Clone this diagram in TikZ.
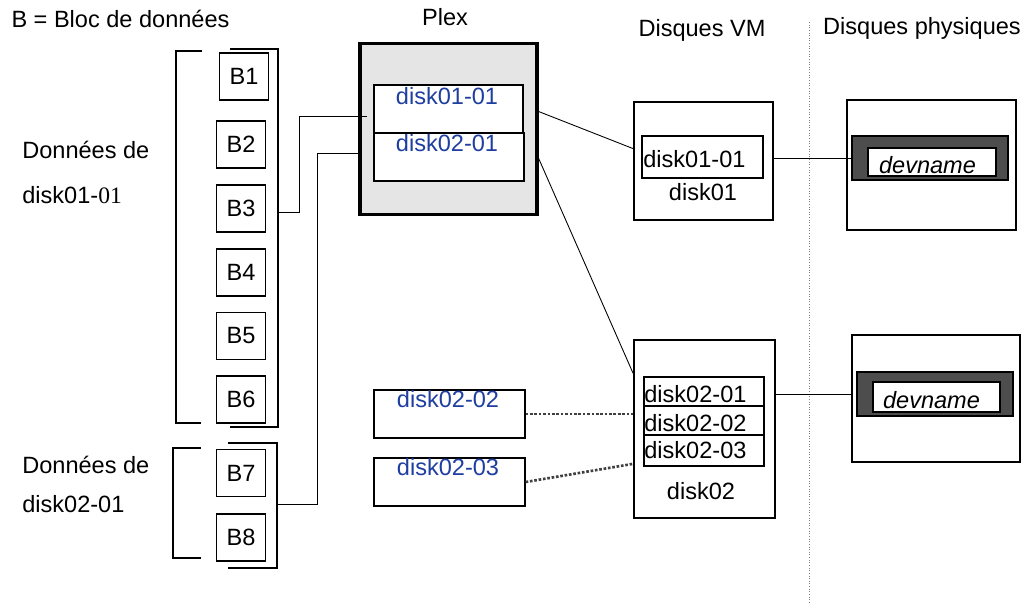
\documentclass[tikz,border=0pt]{standalone}
\usepackage{fontspec}
\setmainfont{Liberation Sans}
\newfontfamily\numserif{Liberation Serif}
\usetikzlibrary{positioning}
\definecolor{plexblue}{RGB}{30,62,160}
\definecolor{plexgray}{RGB}{229,229,229}
\definecolor{devgray}{RGB}{77,77,77}

\begin{document}
\begin{tikzpicture}[font=\fontsize{13.4}{16}\selectfont,
  blocbox/.style={draw,line width=0.7pt,minimum width=0.97cm,minimum height=0.94cm,inner sep=0pt},
  subdisk/.style={draw,line width=0.7pt,fill=white,inner sep=0pt,minimum height=0.96cm},
  vmdisk/.style={draw,line width=1.1pt,inner sep=0pt},
  vmrow/.style={draw,line width=0.7pt,inner sep=0pt,minimum width=2.40cm},
  physdisk/.style={draw,line width=1.1pt,inner sep=0pt},
  wire/.style={line width=0.5pt},
  dotwire/.style={densely dotted,line width=1.5pt,black!75},
  plexlabel/.style={text=plexblue,anchor=base,inner sep=0pt},
  lbl/.style={anchor=base,inner sep=0pt}]
\useasboundingbox (0,0) rectangle (20.66,12.08);

% titres
\node[lbl] (title) at (2.41,11.54) {B = Bloc de données};
\node[lbl] (plextitle) at (8.90,11.58) {Plex};
\node[lbl] (vmtitle) at (14.04,11.36) {Disques VM};
\node[lbl] (phystitle) at (18.44,11.40) {Disques physiques};
\draw[densely dotted,gray,line width=0.5pt] (16.18,11.64) -- (16.18,0.04);

% blocs de donnees
\node[lbl,anchor=base west] (don1) at (0.44,8.92) {Données de};
\node[lbl,anchor=base west] (don1b) at (0.44,8.02) {disk01-{\numserif 01}};
\node[lbl,anchor=base west] (don2) at (0.44,2.62) {Données de};
\node[lbl,anchor=base west] (don2b) at (0.44,1.84) {disk02-01};

\node[blocbox] (b1) at (4.88,10.55) {B1};
\node[blocbox] (b2) at (4.82,9.19) {B2};
\node[blocbox] (b3) at (4.82,7.91) {B3};
\node[blocbox] (b4) at (4.82,6.63) {B4};
\node[blocbox] (b5) at (4.82,5.36) {B5};
\node[blocbox] (b6) at (4.82,4.09) {B6};
\node[blocbox] (b7) at (4.82,2.62) {B7};
\node[blocbox] (b8) at (4.82,1.33) {B8};

\draw[line width=1.3pt] (4.04,11.06) -- (3.52,11.06) -- (3.52,3.62) -- (4.02,3.62);
\draw[line width=1.3pt] (4.02,3.12) -- (3.46,3.12) -- (3.46,0.92) -- (4.02,0.92);
\draw[line width=0.6pt] (4.60,11.10) -- (5.56,11.10) -- (5.56,3.54) -- (4.60,3.54);
\draw[line width=0.6pt] (4.56,3.22) -- (5.54,3.22) -- (5.54,0.72) -- (4.56,0.72);
\coordinate (brk1) at (5.56,7.84);
\coordinate (brk2) at (5.54,2.00);

% plex
\node[draw,line width=1.8pt,fill=plexgray,minimum width=3.54cm,minimum height=3.42cm,inner sep=0pt] (plex) at (8.97,9.50) {};
\node[subdisk,minimum width=2.98cm] (p1) at (8.97,9.90) {};
\node[subdisk,minimum width=3.00cm] (p2) at (8.98,8.94) {};
\node[plexlabel] at (8.94,10.00) {disk01-01};
\node[plexlabel] at (8.94,9.06) {disk02-01};
\coordinate (tapA) at (7.34,9.76);
\coordinate (tapB) at (7.24,9.02);
\draw[wire] (brk1) -- ++(0.42,0) |- (tapA);
\draw[wire] (brk2) -- ++(0.80,0) |- (tapB);

\node[subdisk,minimum width=3.02cm] (q2) at (8.99,3.80) {};
\node[subdisk,minimum width=3.02cm] (q3) at (8.99,2.44) {};
\node[plexlabel] at (8.96,3.94) {disk02-02};
\node[plexlabel] at (8.96,2.58) {disk02-03};

% disques VM
\node[vmdisk,minimum width=2.78cm,minimum height=2.36cm] (d01) at (14.07,8.86) {};
\node[vmrow,minimum width=2.42cm,minimum height=0.84cm] (d01s1) at (14.05,8.94) {};
\node[lbl,anchor=base west] at (12.86,8.74) {disk01-01};
\node[lbl] at (14.06,8.08) {disk01};

\node[vmdisk,minimum width=2.82cm,minimum height=3.56cm] (d02) at (14.09,3.50) {};
\node[vmrow,minimum height=0.58cm] (r1) at (14.08,4.25) {};
\node[vmrow,minimum height=0.58cm] (r2) at (14.08,3.67) {};
\node[vmrow,minimum height=0.62cm] (r3) at (14.08,3.07) {};
\node[lbl,anchor=base west] at (12.88,4.04) {disk02-01};
\node[lbl,anchor=base west] at (12.88,3.46) {disk02-02};
\node[lbl,anchor=base west] at (12.88,2.92) {disk02-03};
\node[lbl] at (14.02,2.10) {disk02};

% disques physiques
\node[physdisk,minimum width=3.38cm,minimum height=2.60cm] (ph1) at (18.63,8.78) {};
\node[physdisk,fill=devgray,minimum width=3.12cm,minimum height=0.88cm] (dark1) at (18.60,8.92) {};
\node[physdisk,fill=white,minimum width=2.56cm,minimum height=0.56cm] (dev1) at (18.64,8.84) {};
\node[lbl] at (18.55,8.62) {\itshape devname};

\node[physdisk,minimum width=3.36cm,minimum height=2.54cm] (ph2) at (18.72,4.11) {};
\node[physdisk,fill=devgray,minimum width=3.12cm,minimum height=0.88cm] (dark2) at (18.70,4.20) {};
\node[physdisk,fill=white,minimum width=2.54cm,minimum height=0.60cm] (dev2) at (18.73,4.14) {};
\node[lbl] at (18.63,3.92) {\itshape devname};

% liaisons
\draw[wire] (plex.11) -- (d01.170);
\draw[wire] (plex.-18) -- (d02.142);
\draw[wire] (d01.east |- dark1.west) -- (dark1.west);
\draw[wire] (d02.east |- dark2.west) -- (ph2.west |- dark2.west);
\draw[dotwire] (q2.east) -- (q2.east -| d02.west);
\draw[dotwire] (q3.east) -- (d02.206);

\end{tikzpicture}
\end{document}
